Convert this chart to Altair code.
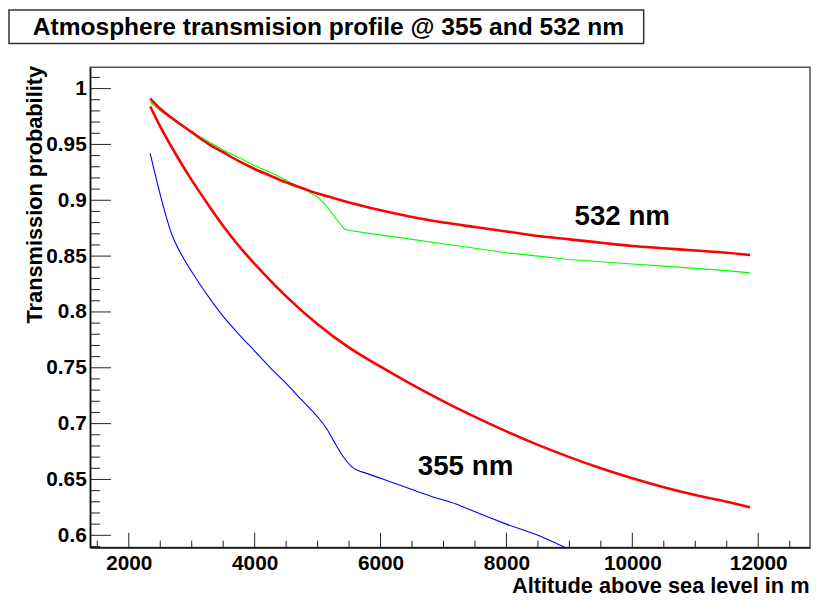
import altair as alt
import pandas as pd

# ---------------- data ----------------
TITLE = "Atmosphere transmision profile @ 355 and 532 nm"
X_TITLE = "Altitude above sea level in m"
Y_TITLE = "Transmission probability"

# 532 nm, red thick curve
red532_x = [2340, 2500, 2750, 3000, 3250, 3500, 3750, 4000, 4250, 4500, 4750, 5000,
            5250, 5500, 6000, 6500, 7000, 7500, 8000, 8500, 9000, 9500, 10000,
            10500, 11000, 11500, 11870]
red532_y = [0.991, 0.982, 0.971, 0.961, 0.951, 0.943, 0.935, 0.928, 0.922, 0.916,
            0.911, 0.906, 0.902, 0.898, 0.891, 0.885, 0.880, 0.876, 0.872, 0.868,
            0.865, 0.862, 0.859, 0.857, 0.855, 0.853, 0.851]

# 532 nm, green thin curve
green532_x = [2340, 2500, 2750, 3000, 3250, 3500, 3750, 4000, 4250, 4500, 4750, 5000,
              5120, 5420, 5500, 6000, 6500, 7000, 7500, 8000, 8500, 9000, 9500,
              10000, 10500, 11000, 11500, 11870]
green532_y = [0.988, 0.980, 0.970, 0.961, 0.953, 0.945, 0.938, 0.931, 0.925, 0.918,
              0.911, 0.903, 0.896, 0.8745, 0.873, 0.869, 0.865, 0.861, 0.857, 0.853,
              0.850, 0.847, 0.845, 0.843, 0.841, 0.839, 0.837, 0.835]

# 355 nm, red thick curve
red355_x = [2340, 2500, 2750, 3000, 3250, 3500, 3750, 4000, 4250, 4500, 5000, 5500,
            6000, 6500, 7000, 7500, 8000, 8500, 9000, 9500, 10000, 10500, 11000,
            11500, 11870]
red355_y = [0.984, 0.966, 0.941, 0.918, 0.897, 0.877, 0.859, 0.843, 0.828, 0.814,
            0.789, 0.768, 0.751, 0.735, 0.720, 0.706, 0.693, 0.681, 0.670, 0.660,
            0.651, 0.643, 0.636, 0.630, 0.625]

# 355 nm, blue thin curve
blue355_x = [2340, 2500, 2680, 2850, 3070, 3300, 3500, 3750, 4000, 4250, 4500, 4750,
             5000, 5150, 5250, 5400, 5550, 5800, 6000, 6400, 6800, 7200, 7500, 8000,
             8500, 8900, 9200]
blue355_y = [0.942, 0.905, 0.870, 0.850, 0.830, 0.811, 0.796, 0.780, 0.765, 0.750,
             0.736, 0.721, 0.706, 0.695, 0.685, 0.671, 0.661, 0.655, 0.651, 0.643,
             0.635, 0.628, 0.621, 0.610, 0.600, 0.590, 0.583]

# annotations
label_text = ["532 nm", "355 nm"]
label_x = [9840, 7350]
label_y = [0.8845, 0.661]

# axis ranges / ticks
X_DOMAIN = [1387, 12823]
Y_DOMAIN = [0.589, 1.019]
x_major = [2000, 4000, 6000, 8000, 10000, 12000]
x_minor = [1500, 2500, 3000, 3500, 4500, 5000, 5500, 6500, 7000, 7500, 8500, 9000,
           9500, 10500, 11000, 11500, 12500]
y_major = [0.6, 0.65, 0.7, 0.75, 0.8, 0.85, 0.9, 0.95, 1.0]
y_minor = [round(0.59 + 0.01 * i, 2) for i in range(43)]
y_minor = [v for v in y_minor if round(v * 100) % 5 != 0]

# ---------------- layout constants ----------------
W, H = 727, 485
FONT = "Liberation Sans"

def series_df(xs, ys, name):
    return pd.DataFrame({"x": xs, "y": ys, "series": name})

x_enc = alt.X("x:Q", scale=alt.Scale(domain=X_DOMAIN, nice=False, zero=False),
              axis=alt.Axis(values=x_major, format="d", ticks=False, grid=False,
                            labelPadding=5, title=X_TITLE, titleAnchor="end",
                            titleAlign="right", titleAngle=0, titleX=W - 1,
                            titleY=45, titleBaseline="alphabetic"))
y_enc = alt.Y("y:Q", scale=alt.Scale(domain=Y_DOMAIN, nice=False, zero=False),
              axis=alt.Axis(values=y_major, format=".2~f", ticks=False, grid=False,
                            labelPadding=4, title=Y_TITLE, titleAnchor="end",
                            titleAlign="right", titleAngle=270, titleX=-49,
                            titleY=-2, titleBaseline="alphabetic"))

def line_layer(df, color, width, interp="monotone"):
    return alt.Chart(df).mark_line(color=color, strokeWidth=width, clip=True,
                                   interpolate=interp).encode(
        x=x_enc, y=y_enc, order="x:Q")

blue = line_layer(series_df(blue355_x, blue355_y, "blue355"), "#0000ff", 1.1)
green = line_layer(series_df(green532_x, green532_y, "green532"), "#00ff00", 1.1, "linear")
red1 = line_layer(series_df(red532_x, red532_y, "red532"), "#ff0000", 2.6)
red2 = line_layer(series_df(red355_x, red355_y, "red355"), "#ff0000", 2.6)

# inner tick marks
xmaj = alt.Chart(pd.DataFrame({"x": x_major})).mark_rule(color="#222", strokeWidth=1).encode(
    x=x_enc, y=alt.value(H - 15), y2=alt.value(H))
xmin = alt.Chart(pd.DataFrame({"x": x_minor})).mark_rule(color="#222", strokeWidth=1, clip=True).encode(
    x=x_enc, y=alt.value(H - 7), y2=alt.value(H))
ymaj = alt.Chart(pd.DataFrame({"y": y_major})).mark_rule(color="#222", strokeWidth=1).encode(
    y=y_enc, x=alt.value(0), x2=alt.value(21))
ymin = alt.Chart(pd.DataFrame({"y": y_minor})).mark_rule(color="#222", strokeWidth=1, clip=True).encode(
    y=y_enc, x=alt.value(0), x2=alt.value(10))

labels = alt.Chart(pd.DataFrame({"x": label_x, "y": label_y, "t": label_text})).mark_text(
    font=FONT, fontWeight="bold", fontSize=28, color="black", align="center",
    baseline="middle").encode(x=x_enc, y=y_enc, text="t:N")

# title box + title text
title_box = alt.Chart(pd.DataFrame({"a": [0]})).mark_rect(
    fill="white", stroke="#333", strokeWidth=1.5).encode(
    x=alt.value(-82), x2=alt.value(559), y=alt.value(-58), y2=alt.value(-24))
title_txt = alt.Chart(pd.DataFrame({"t": [TITLE]})).mark_text(
    font=FONT, fontWeight="bold", fontSize=24.8, color="black", align="left",
    baseline="alphabetic").encode(x=alt.value(-58), y=alt.value(-33), text="t:N")

chart = alt.layer(
    xmaj, xmin, ymaj, ymin, blue, green, red1, red2, labels, title_box, title_txt
).properties(
    width=W, height=H, autosize="none",
    padding={"left": 83, "top": 57, "right": 2, "bottom": 52},
    background="white",
).configure_view(
    stroke="#555", strokeWidth=1.5,
).configure_axis(
    labelFont=FONT, labelFontWeight="bold", labelFontSize=21, labelColor="black",
    titleFont=FONT, titleFontWeight="bold", titleFontSize=22, titleColor="black",
    domainColor="#111", domainWidth=1.5,
)

chart.save("out.html", embed_options={"renderer": "svg", "actions": False})
